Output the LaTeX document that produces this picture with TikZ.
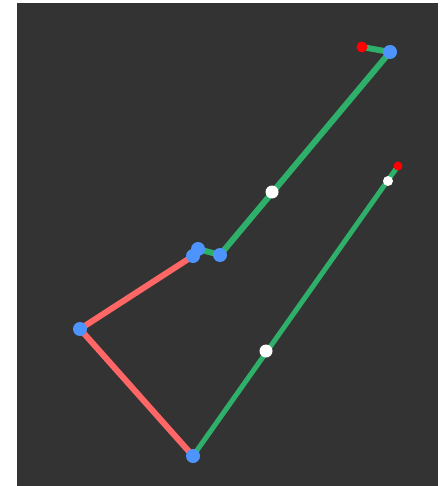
\documentclass[tikz,border=0pt]{standalone}
\usetikzlibrary{positioning}
\definecolor{bgdark}{HTML}{333333}
\definecolor{limbgreen}{HTML}{2EB06A}
\definecolor{limbred}{HTML}{FF6666}
\definecolor{jointblue}{HTML}{4D94FF}
\definecolor{tipred}{HTML}{FF0000}

\begin{document}
\begin{tikzpicture}[x=1pt, y=-1pt,
  limb/.style={line width=6pt, line cap=round},
  joint/.style={circle, fill=jointblue, inner sep=0pt, minimum size=14pt},
  tip/.style={circle, fill=tipred, inner sep=0pt, minimum size=11pt},
  midpt/.style={circle, fill=white, inner sep=0pt, minimum size=13pt}]
  \useasboundingbox (0,0) rectangle (446,486);
  % Background
  \fill[bgdark] (17,3) rectangle (438,486);

  % Points
  \coordinate (tipA) at (362,47);
  \coordinate (topJ) at (390,52);
  \coordinate (midA) at (272,192);
  \coordinate (elbowR) at (220,255);
  \coordinate (elbowL) at (198,249);
  \coordinate (shoulder) at (193,256);
  \coordinate (leftJ) at (80,329);
  \coordinate (bottomJ) at (193,456);
  \coordinate (midB) at (266,351);
  \coordinate (nearTip) at (388,181);
  \coordinate (tipB) at (398,166);

  % Green limbs
  \draw[limb, limbgreen] (tipA) -- (topJ);
  \draw[limb, limbgreen] (topJ) -- (elbowR);
  \draw[limb, limbgreen] (elbowR) -- (elbowL);
  \draw[limb, limbgreen, line width=5pt] (bottomJ) -- (tipB);

  % Red limbs
  \draw[limb, limbred] (shoulder) -- (leftJ);
  \draw[limb, limbred] (leftJ) -- (bottomJ);

  % Joints
  \node[joint] (n1) at (topJ) {};
  \node[joint] (n2) at (elbowR) {};
  \node[joint] (n3) at (elbowL) {};
  \node[joint] (n4) at (shoulder) {};
  \node[joint] (n5) at (leftJ) {};
  \node[joint] (n6) at (bottomJ) {};

  % Tips
  \node[tip] (t1) at (tipA) {};
  \node[tip, minimum size=9pt] (t2) at (tipB) {};

  % Midpoints
  \node[midpt] (m1) at (midA) {};
  \node[midpt] (m2) at (midB) {};
  \node[midpt, minimum size=10pt] (m3) at (nearTip) {};
\end{tikzpicture}
\end{document}
